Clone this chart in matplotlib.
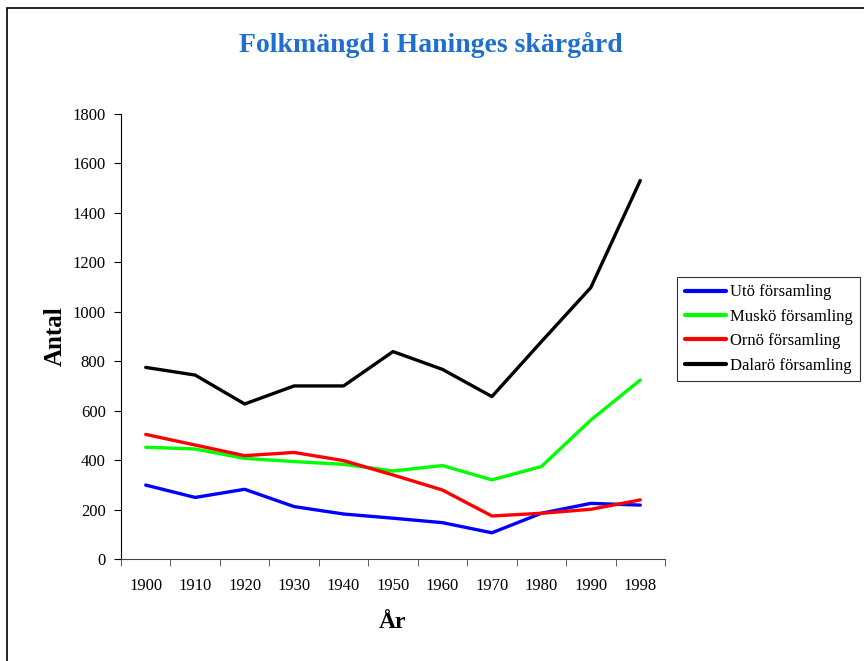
import numpy as np
import matplotlib.pyplot as plt
from matplotlib.patches import Rectangle

years = ['1900', '1910', '1920', '1930', '1940', '1950', '1960', '1970', '1980', '1990', '1998']
uto = [299, 249, 282, 212, 182, 165, 147, 106, 185, 225, 218]
musko = [452, 445, 407, 394, 383, 356, 378, 320, 374, 562, 724]
orno = [504, 461, 418, 431, 398, 340, 279, 174, 185, 201, 239]
dalaro = [775, 744, 627, 700, 700, 839, 767, 657, 879, 1098, 1531]

names = ['Utö församling', 'Muskö församling', 'Ornö församling', 'Dalarö församling']
colors = ['#0000ff', '#00ff00', '#ff0000', '#000000']

plt.rcParams['font.family'] = ['Liberation Serif', 'DejaVu Serif']

fig = plt.figure(figsize=(8.64, 6.61), dpi=100)
ax = fig.add_axes([121/864, 1 - 559/661, 544/864, 445/661])

x = np.arange(len(years))
for vals, name, c in zip([uto, musko, orno, dalaro], names, colors):
    ax.plot(x, vals, color=c, lw=2.4, label=name, solid_capstyle='round')

ax.set_xlim(-0.5, len(years) - 0.5)
ax.set_ylim(0, 1800)
ax.set_yticks(np.arange(0, 1801, 200))
ax.set_xticks(x)
ax.set_xticklabels(years)
ax.set_xticks(np.arange(-0.5, len(years)), minor=True)
ax.tick_params(axis='x', which='major', length=0, pad=14, labelsize=12)
ax.tick_params(axis='x', which='minor', length=5, direction='out', color='#444444')
ax.tick_params(axis='y', length=5, direction='out', labelsize=12, pad=6)
ax.spines['top'].set_visible(False)
ax.spines['right'].set_visible(False)
ax.spines['bottom'].set_color('#444444')

ax.set_xlabel('År', fontsize=17, fontweight='bold', labelpad=13)
ax.set_ylabel('Antal', fontsize=18, fontweight='bold', labelpad=4)

fig.text(431/864, 1 - 45/661, 'Folkmängd i Haninges skärgård', ha='center', va='center',
         fontsize=20, fontweight='bold', color='#1e6fcf')

leg = ax.legend(loc='center left', bbox_to_anchor=(677/864, 1 - 329/661),
                bbox_transform=fig.transFigure, fontsize=12, frameon=True,
                fancybox=False, edgecolor='black', handlelength=2.5,
                handletextpad=0.2, borderpad=0.45, labelspacing=0.5, borderaxespad=0)
leg.get_frame().set_linewidth(0.8)
for h in leg.get_lines():
    h.set_linewidth(3)

# border around the chart area
fig.patches.append(Rectangle((7/864, -0.1), 1.2, 1 - 8/661 + 0.1, transform=fig.transFigure,
                             fill=False, edgecolor='black', lw=1.2))

fig.savefig('out.png', dpi=100)
